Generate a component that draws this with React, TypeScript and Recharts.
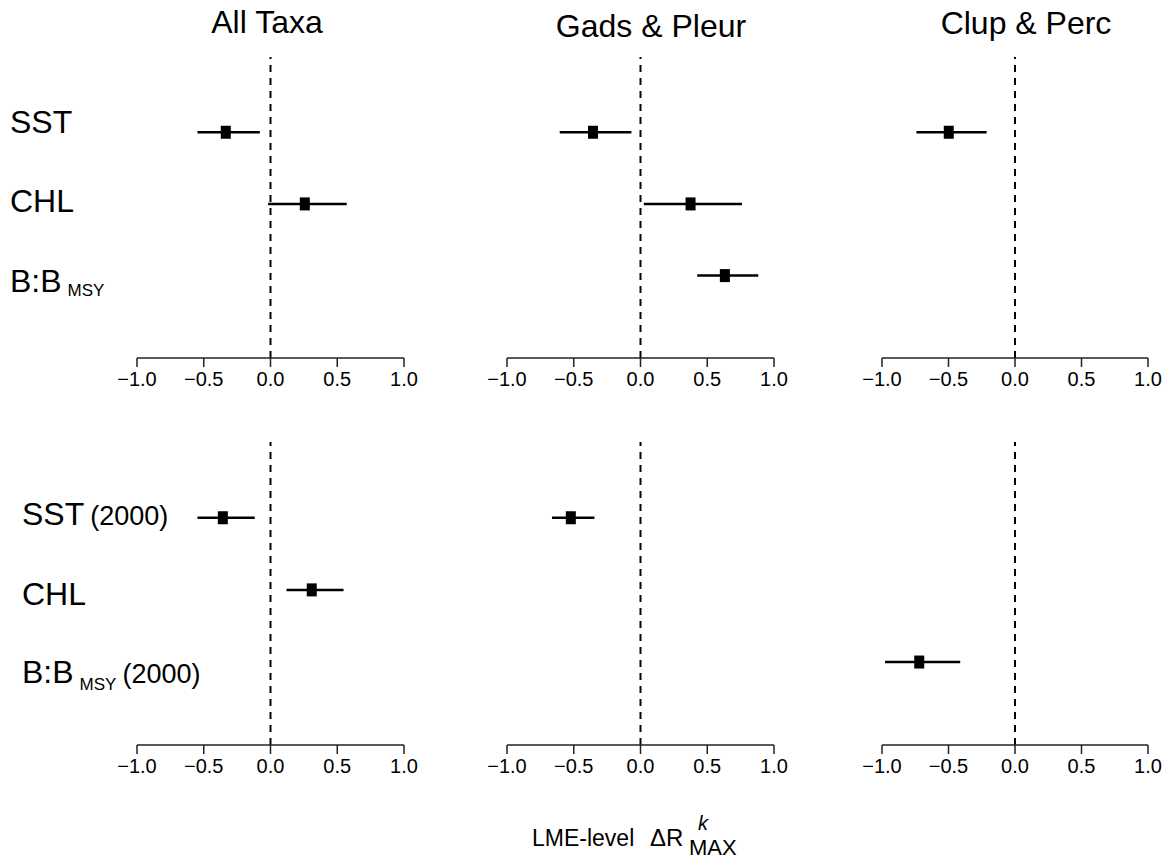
import React from "react";
import { ScatterChart, Scatter, XAxis, YAxis, ErrorBar, ReferenceLine } from "recharts";

const FONT = "'Liberation Sans', Arial, Helvetica, sans-serif";

const X_TICKS = [-1, -0.5, 0, 0.5, 1];
// row positions from top: SST, CHL, B:BMSY
const ROW_POS = [3, 2, 1];

const TITLES = ["All Taxa", "Gads & Pleur", "Clup & Perc"];

// top row: full period
const ALL_EST = [-0.335, 0.257, null];
const ALL_LO = [-0.547, -0.018, null];
const ALL_HI = [-0.08, 0.571, null];

const GADS_EST = [-0.356, 0.375, 0.632];
const GADS_LO = [-0.605, 0.025, 0.425];
const GADS_HI = [-0.068, 0.76, 0.882];

const CLUP_EST = [-0.498, null, null];
const CLUP_LO = [-0.741, null, null];
const CLUP_HI = [-0.213, null, null];

// bottom row: since 2000
const ALL2000_EST = [-0.357, 0.309, null];
const ALL2000_LO = [-0.547, 0.12, null];
const ALL2000_HI = [-0.118, 0.547, null];

const GADS2000_EST = [-0.522, null, null];
const GADS2000_LO = [-0.663, null, null];
const GADS2000_HI = [-0.345, null, null];

const CLUP2000_EST = [null, null, -0.72];
const CLUP2000_LO = [null, null, -0.977];
const CLUP2000_HI = [null, null, -0.412];

type RowLabel = { main: string; sub?: string; tail?: string };

const TOP_LABELS: RowLabel[] = [{ main: "SST" }, { main: "CHL" }, { main: "B:B", sub: "MSY" }];
const BOTTOM_LABELS: RowLabel[] = [
  { main: "SST", tail: "(2000)" },
  { main: "CHL" },
  { main: "B:B", sub: "MSY", tail: "(2000)" },
];

// layout
const PLOT_LEFT = [137, 507, 882];
const PLOT_W = [267, 267, 266];
const ROW_TOP = [57, 442];
const ROW_H = [301, 303];
const TITLE_POS = [
  { x: 267, y: 33 },
  { x: 651, y: 37 },
  { x: 1026, y: 34 },
];

function fmtTick(v: number): string {
  const s = Math.abs(v).toFixed(1);
  return v < 0 ? `\u2212${s}` : s;
}

function buildData(est: (number | null)[], lo: (number | null)[], hi: (number | null)[]) {
  return ROW_POS.map((y, i) => {
    const e = est[i];
    if (e == null) return null;
    return { x: e, y, err: [e - (lo[i] as number), (hi[i] as number) - e] };
  }).filter((d) => d != null);
}

const Square = (p: any) => <rect x={p.cx - 5} y={p.cy - 6.5} width={10} height={13} fill="#000" />;

interface RowTickProps {
  y?: number;
  payload?: { value: number };
  labels: RowLabel[];
  labelX: number;
  dys: number[];
  subDy: number;
}

function RowTick({ y = 0, payload, labels, labelX, dys, subDy }: RowTickProps) {
  const i = ROW_POS.indexOf(payload?.value as number);
  if (i < 0) return null;
  const l = labels[i];
  return (
    <text x={labelX} y={y + dys[i]} fill="#000" fontFamily={FONT} fontSize={32}>
      <tspan>{l.main}</tspan>
      {l.sub && (
        <tspan dx={6} dy={subDy} fontSize={17}>
          {l.sub}
        </tspan>
      )}
      {l.tail && (
        <tspan dx={6} dy={l.sub ? -subDy : 0} fontSize={27}>
          {l.tail}
        </tspan>
      )}
    </text>
  );
}

interface PanelProps {
  col: number;
  row: number;
  est: (number | null)[];
  lo: (number | null)[];
  hi: (number | null)[];
  labels?: RowLabel[];
  labelX?: number;
  dys?: number[];
  subDy?: number;
}

function Panel({ col, row, est, lo, hi, labels, labelX = 10, dys = [0, 0, 0], subDy = 4 }: PanelProps) {
  const data = buildData(est, lo, hi);
  const padTop = 3;
  const padSide = 25;
  const axisH = 45;
  const hasLabels = !!labels;
  const left = hasLabels ? 0 : PLOT_LEFT[col] - padSide;
  const marginLeft = hasLabels ? 0 : padSide;
  const width = (hasLabels ? PLOT_LEFT[col] : padSide) + PLOT_W[col] + padSide;
  const height = padTop + ROW_H[row] + axisH;

  return (
    <div style={{ position: "absolute", left, top: ROW_TOP[row] - padTop }}>
      <ScatterChart
        width={width}
        height={height}
        margin={{ top: padTop, right: padSide, bottom: 0, left: marginLeft }}
      >
        <XAxis
          type="number"
          dataKey="x"
          domain={[-1, 1]}
          ticks={X_TICKS}
          interval={0}
          allowDataOverflow
          tickFormatter={fmtTick}
          tickSize={9}
          tickMargin={5}
          height={axisH}
          axisLine={{ stroke: "#222", strokeWidth: 1.5 }}
          tickLine={{ stroke: "#222", strokeWidth: 1.5 }}
          tick={{ fill: "#000", fontSize: 20, fontFamily: FONT }}
        />
        <YAxis
          type="number"
          dataKey="y"
          domain={[-0.15, 4.05]}
          ticks={ROW_POS}
          interval={0}
          allowDataOverflow
          hide={!hasLabels}
          width={hasLabels ? PLOT_LEFT[col] : 0}
          axisLine={false}
          tickLine={false}
          tick={
            hasLabels
              ? (p: any) => (
                  <RowTick {...p} labels={labels as RowLabel[]} labelX={labelX} dys={dys} subDy={subDy} />
                )
              : false
          }
        />
        <ReferenceLine x={0} stroke="#000" strokeWidth={2} strokeDasharray="7 6" />
        <Scatter data={data} fill="#000" shape={Square} isAnimationActive={false}>
          <ErrorBar dataKey="err" direction="x" width={0} stroke="#000" strokeWidth={2.5} />
        </Scatter>
      </ScatterChart>
    </div>
  );
}

export default function App() {
  return (
    <div
      style={{
        position: "absolute",
        left: 0,
        top: 0,
        width: 1170,
        height: 860,
        background: "#fff",
        fontFamily: FONT,
        overflow: "hidden",
      }}
    >
      <Panel col={0} row={0} est={ALL_EST} lo={ALL_LO} hi={ALL_HI} labels={TOP_LABELS} labelX={10} dys={[1, 8, 16]} subDy={4} />
      <Panel col={1} row={0} est={GADS_EST} lo={GADS_LO} hi={GADS_HI} />
      <Panel col={2} row={0} est={CLUP_EST} lo={CLUP_LO} hi={CLUP_HI} />
      <Panel
        col={0}
        row={1}
        est={ALL2000_EST}
        lo={ALL2000_LO}
        hi={ALL2000_HI}
        labels={BOTTOM_LABELS}
        labelX={22}
        dys={[7, 15, 21]}
        subDy={7}
      />
      <Panel col={1} row={1} est={GADS2000_EST} lo={GADS2000_LO} hi={GADS2000_HI} />
      <Panel col={2} row={1} est={CLUP2000_EST} lo={CLUP2000_LO} hi={CLUP2000_HI} />

      <svg
        width={1170}
        height={860}
        style={{ position: "absolute", left: 0, top: 0, pointerEvents: "none" }}
      >
        {TITLES.map((t, i) => (
          <text key={t} x={TITLE_POS[i].x} y={TITLE_POS[i].y} textAnchor="middle" fontSize={32} fontFamily={FONT} fill="#000">
            {t}
          </text>
        ))}
        <text x={532} y={846} fontSize={23} fontFamily={FONT} fill="#000">
          LME-level
        </text>
        <text x={650} y={846} fontSize={24} fontFamily={FONT} fill="#000">
          ΔR
        </text>
        <text x={698} y={830} fontSize={20} fontStyle="italic" fontFamily={FONT} fill="#000">
          k
        </text>
        <text x={689} y={855} fontSize={22} fontFamily={FONT} fill="#000">
          MAX
        </text>
      </svg>
    </div>
  );
}
